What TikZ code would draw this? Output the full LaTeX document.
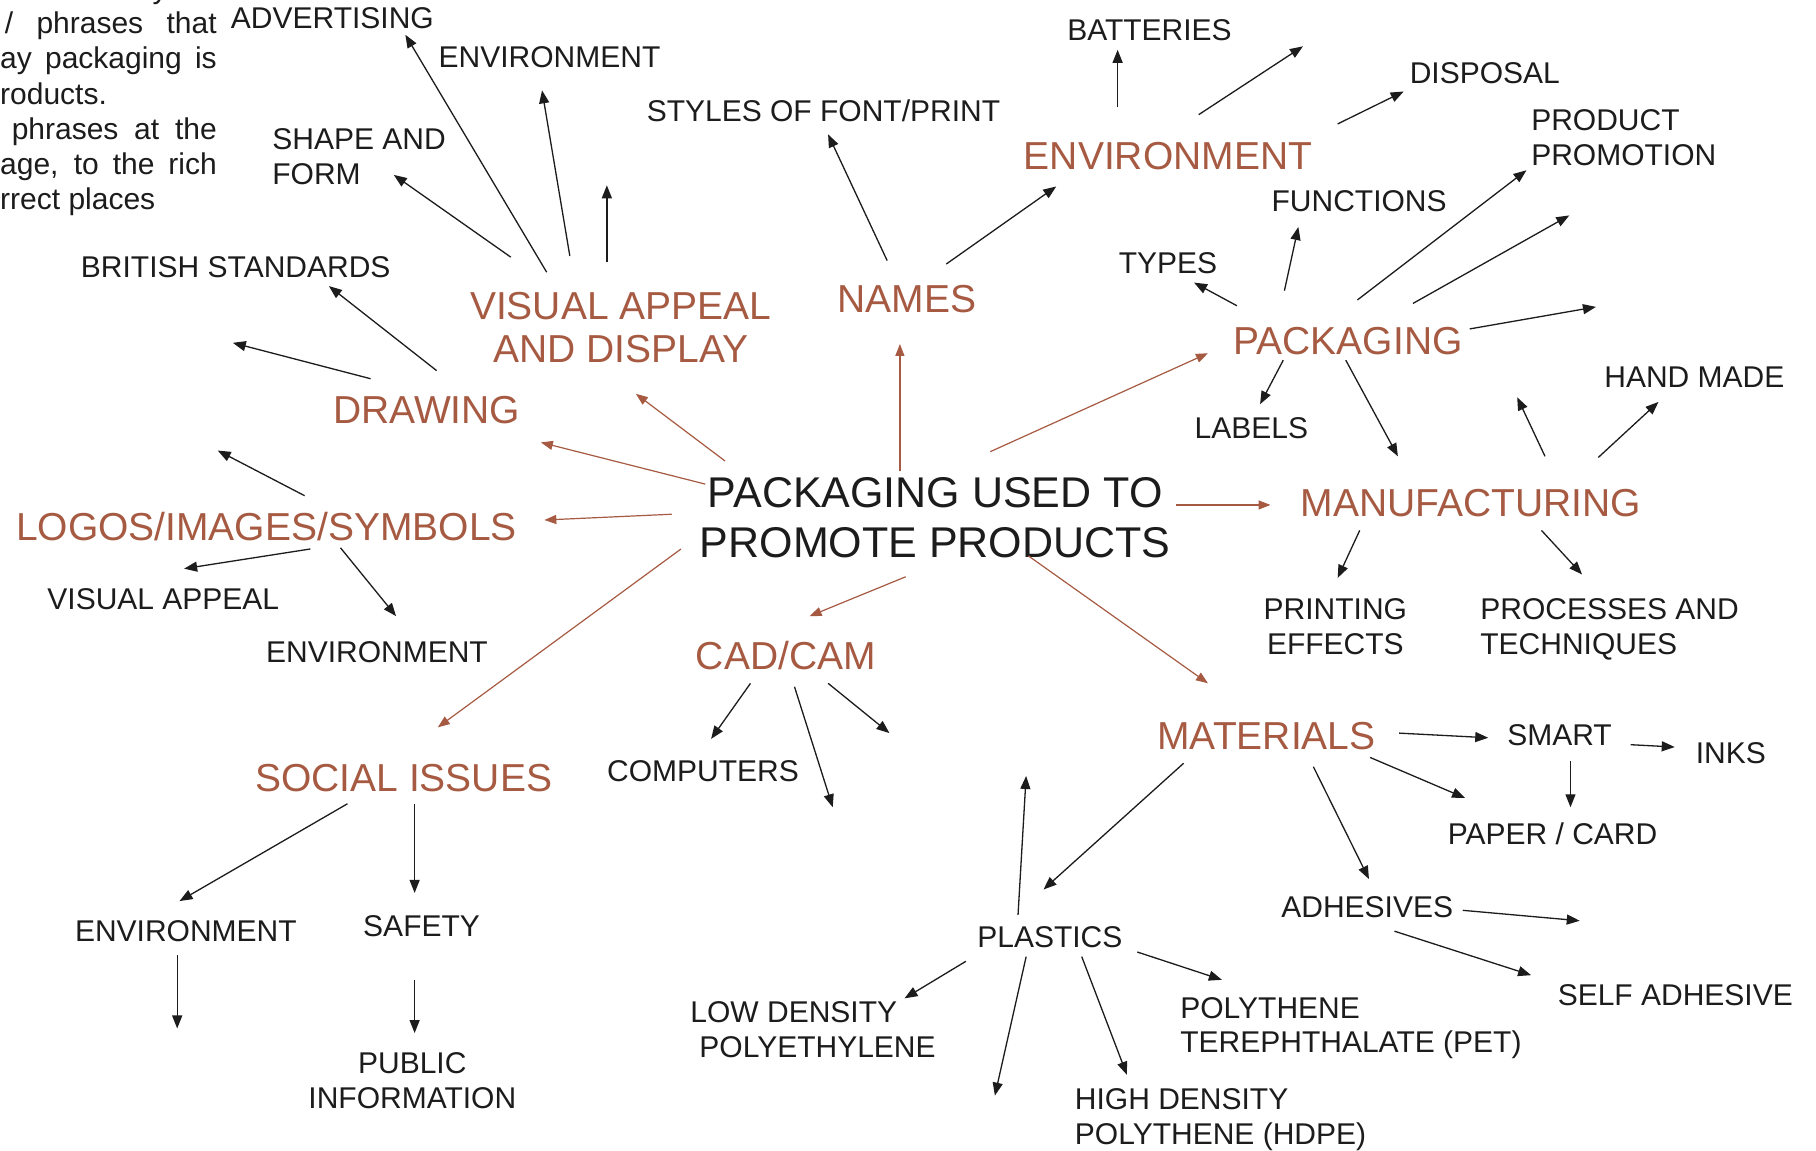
\documentclass[tikz,border=0pt]{standalone}
\usepackage{fontspec}
\setmainfont{Liberation Sans}
\usetikzlibrary{arrows.meta,calc}
\definecolor{rust}{RGB}{166,90,66}
\definecolor{ink}{RGB}{28,28,28}
\tikzset{
  hdr/.style={anchor=base, inner sep=0pt, text=rust, font=\fontsize{39}{42.9}\selectfont, align=center},
  lbl/.style={anchor=base, inner sep=0pt, text=ink, font=\fontsize{30}{34.7}\selectfont, align=center},
  lbll/.style={lbl, anchor=base west, align=left},
  hubtext/.style={anchor=base, inner sep=0pt, text=ink, font=\fontsize{43}{49.8}\selectfont, align=center},
  intro/.style={anchor=base west, inner sep=0pt, text=ink, font=\fontsize{30}{35}\selectfont},
  barr/.style={draw=ink, line width=1.3pt, -{Triangle[length=13pt,width=10pt]}},
  oarr/.style={draw=rust, line width=1.2pt, -{Triangle[length=12pt,width=9pt]}},
}
\begin{document}
\begin{tikzpicture}[x={(1.1582pt,0pt)}, y={(0pt,-1.1582pt)}]
\useasboundingbox (0,0) rectangle (1568,993);
\fill[white] (0,0) rectangle (1568,993);
\clip (0,0) rectangle (1568,993);

% intro text (cut off at the left)
\node[intro] (i0) at (131.5,-1.3) {y};
\node[intro] (i1) at (4,29) {\makebox[211.9pt][s]{/ phrases that}};
\node[intro] (i2) at (0,59.5) {\makebox[216.6pt][s]{ay packaging is}};
\node[intro] (i3) at (0,90) {roducts.};
\node[intro] (i4) at (10,120.5) {\makebox[205pt][s]{phrases at the}};
\node[intro] (i5) at (0,150.5) {\makebox[216.6pt][s]{age, to the rich}};
\node[intro] (i6) at (0,180.5) {rrect places};

% hub (base = last line)
\node[hubtext] (hub) at (807.5,481) {PACKAGING USED TO\\PROMOTE PRODUCTS};

% headers
\node[hdr] (vis) at (536,313) {VISUAL APPEAL\\AND DISPLAY};
\node[hdr] (names) at (783,270) {NAMES};
\node[hdr] (drawing) at (368.5,366) {DRAWING};
\node[hdr] (logos) at (230,467) {LOGOS/IMAGES/SYMBOLS};
\node[hdr] (envo) at (1008.5,146) {ENVIRONMENT};
\node[hdr] (pack) at (1164,306) {PACKAGING};
\node[hdr] (manu) at (1270,446) {MANUFACTURING};
\node[hdr] (cad) at (678.5,578) {CAD/CAM};
\node[hdr] (mat) at (1093.5,647) {MATERIALS};
\node[hdr] (soc) at (348.5,683) {SOCIAL ISSUES};

% labels
\node[lbl] (adv) at (287,25) {ADVERTISING};
\node[lbl] (envt) at (474.5,58) {ENVIRONMENT};
\node[lbll] (shape) at (235,159) {SHAPE AND\\FORM};
\node[lbl] (styles) at (711,105) {STYLES OF FONT/PRINT};
\node[lbl] (batt) at (992.5,35) {BATTERIES};
\node[lbl] (disp) at (1282,72) {DISPOSAL};
\node[lbll] (prod) at (1322,143) {PRODUCT\\PROMOTION};
\node[lbl] (func) at (1173.5,183) {FUNCTIONS};
\node[lbl] (types) at (1008.5,236) {TYPES};
\node[lbl] (labels) at (1080.5,379) {LABELS};
\node[lbl] (hand) at (1463,335) {HAND MADE};
\node[lbl] (brit) at (203.5,240) {BRITISH STANDARDS};
\node[lbl] (visl) at (141,526) {VISUAL APPEAL};
\node[lbl] (envl) at (325.5,572) {ENVIRONMENT};
\node[lbl] (print) at (1153,565) {PRINTING\\EFFECTS};
\node[lbll] (proc) at (1278,565) {PROCESSES AND\\TECHNIQUES};
\node[lbl] (comp) at (607,675) {COMPUTERS};
\node[lbl] (smart) at (1346.5,644) {SMART};
\node[lbl] (inks) at (1494.5,659) {INKS};
\node[lbl] (paper) at (1340.5,729) {PAPER / CARD};
\node[lbl] (adh) at (1180.5,792) {ADHESIVES};
\node[lbl] (self) at (1446.5,868) {SELF ADHESIVE};
\node[lbl] (plast) at (906.5,818) {PLASTICS};
\node[lbll] (low) at (596,913) {LOW DENSITY\\\hspace*{9pt}POLYETHYLENE};
\node[lbll] (pet) at (1019,909) {POLYTHENE\\TEREPHTHALATE (PET)};
\node[lbll] (hdpe) at (928,988) {HIGH DENSITY\\POLYTHENE (HDPE)};
\node[lbl] (envb) at (160.5,813) {ENVIRONMENT};
\node[lbl] (safety) at (364,809) {SAFETY};
\node[lbl] (public) at (356,957) {PUBLIC\\INFORMATION};

% free ends
\coordinate (fc) at (524,160);
\coordinate (ff) at (201,296);
\coordinate (fg) at (188,389);
\coordinate (fm) at (1125,40);
\coordinate (fr) at (1355,186);
\coordinate (fs) at (1378,265);
\coordinate (fv) at (1310,343);
\coordinate (fz2) at (719,697);
\coordinate (fz3) at (768,633);
\coordinate (fa1) at (1364,795);
\coordinate (fp1) at (886,670);
\coordinate (fp3) at (859,946);
\coordinate (fb1) at (153,888);

% orange connectors from hub
\draw[oarr] ([shift={(-181.5,-83)}]hub.base) -- ([shift={(13,27)}]vis.base);
\draw[oarr] ([shift={(-198.5,-63)}]hub.base) -- ([shift={(98.5,16)}]drawing.base);
\draw[oarr] ([shift={(-227.5,-37)}]hub.base) -- ([shift={(240,-18)}]logos.base);
\draw[oarr] ([shift={(-219.5,-7)}]hub.base) -- ([shift={(29.5,-55)}]soc.base);
\draw[oarr] ([shift={(-25.5,17)}]hub.base) -- ([shift={(20.5,-46)}]cad.base);
\draw[oarr] ([shift={(80.5,-1)}]hub.base) -- ([shift={(-50.5,-57)}]mat.base);
\draw[oarr] ([shift={(207.5,-45)}]hub.base) -- ([shift={(-173,-10)}]manu.base);
\draw[oarr] ([shift={(47.5,-91)}]hub.base) -- ([shift={(-121,-1)}]pack.base);
\draw[oarr] ([shift={(-30.5,-74)}]hub.base) -- ([shift={(-6,27)}]names.base);

% visual appeal
\draw[barr] ([shift={(-64,-78)}]vis.base) -- ([shift={(63,5)}]adv.base);
\draw[barr] ([shift={(-44,-92)}]vis.base) -- ([shift={(-6.5,20)}]envt.base);
\draw[barr] ([shift={(-12,-87)}]vis.base) -- (fc);
\draw[barr] ([shift={(-95,-91)}]vis.base) -- ([shift={(105,-8)}]shape.base west);
% drawing
\draw[barr] ([shift={(8.5,-46)}]drawing.base) -- ([shift={(80.5,7)}]brit.base);
\draw[barr] ([shift={(-48.5,-39)}]drawing.base) -- (ff);
% logos
\draw[barr] ([shift={(33,-39)}]logos.base) -- (fg);
\draw[barr] ([shift={(38,7)}]logos.base) -- ([shift={(18,-35)}]visl.base);
\draw[barr] ([shift={(64,6)}]logos.base) -- ([shift={(16.5,-40)}]envl.base);
% names
\draw[barr] ([shift={(-17,-45)}]names.base) -- ([shift={(4,11)}]styles.base);
\draw[barr] ([shift={(34,-42)}]names.base) -- ([shift={(-96.5,15)}]envo.base);
% environment
\draw[barr] ([shift={(-43.5,-54)}]envo.base) -- ([shift={(-27.5,8)}]batt.base);
\draw[barr] ([shift={(26.5,-47)}]envo.base) -- (fm);
\draw[barr] ([shift={(146.5,-39)}]envo.base) -- ([shift={(-70,7)}]disp.base);
% packaging
\draw[barr] ([shift={(-96,-42)}]pack.base) -- ([shift={(22.5,8)}]types.base);
\draw[barr] ([shift={(-55,-55)}]pack.base) -- ([shift={(-52.5,13)}]func.base);
\draw[barr] ([shift={(8,-47)}]pack.base) -- ([shift={(-4,4)}]prod.base west);
\draw[barr] ([shift={(56,-44)}]pack.base) -- (fr);
\draw[barr] ([shift={(105,-22)}]pack.base) -- (fs);
\draw[barr] ([shift={(-56,5)}]pack.base) -- ([shift={(7.5,-30)}]labels.base);
\draw[barr] ([shift={(-2,5)}]pack.base) -- ([shift={(-63,-52)}]manu.base);
% manufacturing
\draw[barr] ([shift={(64,-52)}]manu.base) -- (fv);
\draw[barr] ([shift={(110,-51)}]manu.base) -- ([shift={(-31,12)}]hand.base);
\draw[barr] ([shift={(-96,12)}]manu.base) -- ([shift={(2,-66)}]print.base);
\draw[barr] ([shift={(61,12)}]manu.base) -- ([shift={(88,-69)}]proc.base west);
% cad/cam
\draw[barr] ([shift={(-30.5,12)}]cad.base) -- ([shift={(7,-37)}]comp.base);
\draw[barr] ([shift={(7.5,15)}]cad.base) -- (fz2);
\draw[barr] ([shift={(36.5,12)}]cad.base) -- (fz3);
% materials
\draw[barr] ([shift={(114.5,-14)}]mat.base) -- ([shift={(-61.5,-7)}]smart.base);
\draw[barr] ([shift={(89.5,7)}]mat.base) -- ([shift={(-75.5,-40)}]paper.base);
\draw[barr] ([shift={(40.5,15)}]mat.base) -- ([shift={(1.5,-33)}]adh.base);
\draw[barr] ([shift={(-71.5,12)}]mat.base) -- ([shift={(-5.5,-50)}]plast.base);
% smart
\draw[barr] ([shift={(61.5,-1)}]smart.base) -- ([shift={(-48.5,-14)}]inks.base);
\draw[barr] ([shift={(9.5,13)}]smart.base) -- ([shift={(15.5,-32)}]paper.base);
% adhesives
\draw[barr] ([shift={(82.5,-6)}]adh.base) -- (fa1);
\draw[barr] ([shift={(23.5,12)}]adh.base) -- ([shift={(-124.5,-26)}]self.base);
% plastics
\draw[barr] ([shift={(-27.5,-28)}]plast.base) -- (fp1);
\draw[barr] ([shift={(-72.5,12)}]plast.base) -- ([shift={(185,-51)}]low.base west);
\draw[barr] ([shift={(-20.5,8)}]plast.base) -- (fp3);
\draw[barr] ([shift={(27.5,8)}]plast.base) -- ([shift={(45,-60)}]hdpe.base west);
\draw[barr] ([shift={(75.5,4)}]plast.base) -- ([shift={(36,-63)}]pet.base west);
% social issues
\draw[barr] ([shift={(-48.5,11)}]soc.base) -- ([shift={(-5.5,-35)}]envb.base);
\draw[barr] ([shift={(9.5,11)}]soc.base) -- ([shift={(-6,-38)}]safety.base);
\draw[barr] ([shift={(-7.5,12)}]envb.base) -- (fb1);
\draw[barr] ([shift={(-6,37)}]safety.base) -- ([shift={(2,-65)}]public.base);
\end{tikzpicture}
\end{document}
